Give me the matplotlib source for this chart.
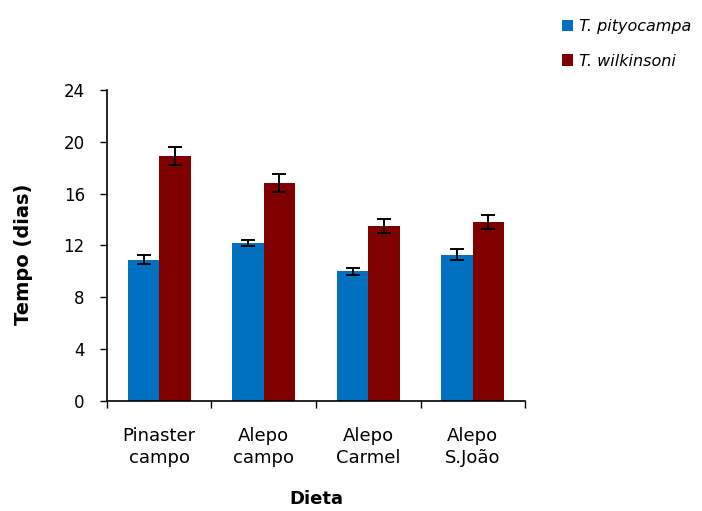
import matplotlib
matplotlib.use("Agg")
import matplotlib.pyplot as plt
from matplotlib.patches import Patch
import numpy as np

plt.rcParams['font.family'] = ['DejaVu Sans']

categories = ["Pinaster\ncampo", "Alepo\ncampo", "Alepo\nCarmel", "Alepo\nS.João"]
series_names = ["T. pityocampa", "T. wilkinsoni"]
pityocampa = [10.9, 12.2, 10.0, 11.3]
pityocampa_err = [0.35, 0.25, 0.27, 0.4]
wilkinsoni = [18.9, 16.8, 13.5, 13.8]
wilkinsoni_err = [0.7, 0.7, 0.55, 0.55]
colors = ["#0070C0", "#800000"]
y_ticks = [0, 4, 8, 12, 16, 20, 24]

fig = plt.figure(figsize=(7.02, 5.11), dpi=100)
ax = fig.add_axes([0.1524, 0.2153, 0.5955, 0.6087])

x = np.arange(len(categories))
w = 0.3
err_kw = dict(ecolor="black", elinewidth=1.4, capsize=5.2, capthick=1.4)
ax.bar(x - w / 2, pityocampa, w, yerr=pityocampa_err, color=colors[0],
       error_kw=err_kw, zorder=2)
ax.bar(x + w / 2, wilkinsoni, w, yerr=wilkinsoni_err, color=colors[1],
       error_kw=err_kw, zorder=2)

ax.set_xlim(-0.5, len(categories) - 0.5)
ax.set_ylim(0, 24)
ax.set_yticks(y_ticks)
ax.set_xticks(x)
ax.set_xticklabels(categories, fontsize=13, linespacing=1.25)
ax.set_xticks(np.arange(len(categories) + 1) - 0.5, minor=True)
ax.tick_params(axis="x", which="major", length=0, pad=19)
ax.tick_params(axis="x", which="minor", length=5, width=1, direction="out")
ax.tick_params(axis="y", length=5, width=1, direction="out", labelsize=12, pad=11)

for s in ["top", "right"]:
    ax.spines[s].set_visible(False)
for s in ["left", "bottom"]:
    ax.spines[s].set_linewidth(1.2)

ax.set_xlabel("Dieta", fontsize=13, fontweight="bold", labelpad=17)
ax.set_ylabel("Tempo (dias)", fontsize=14, fontweight="bold")
ax.yaxis.set_label_coords(-0.176, 0.47)

handles = [Patch(facecolor=c) for c in colors]
fig.legend(handles, series_names, loc="upper left", bbox_to_anchor=(0.78, 0.99),
           frameon=False, handlelength=0.7, handleheight=0.7, handletextpad=0.35,
           labelspacing=1.2, prop=dict(style="italic", size=11.5))

fig.savefig("out.png", dpi=100)
